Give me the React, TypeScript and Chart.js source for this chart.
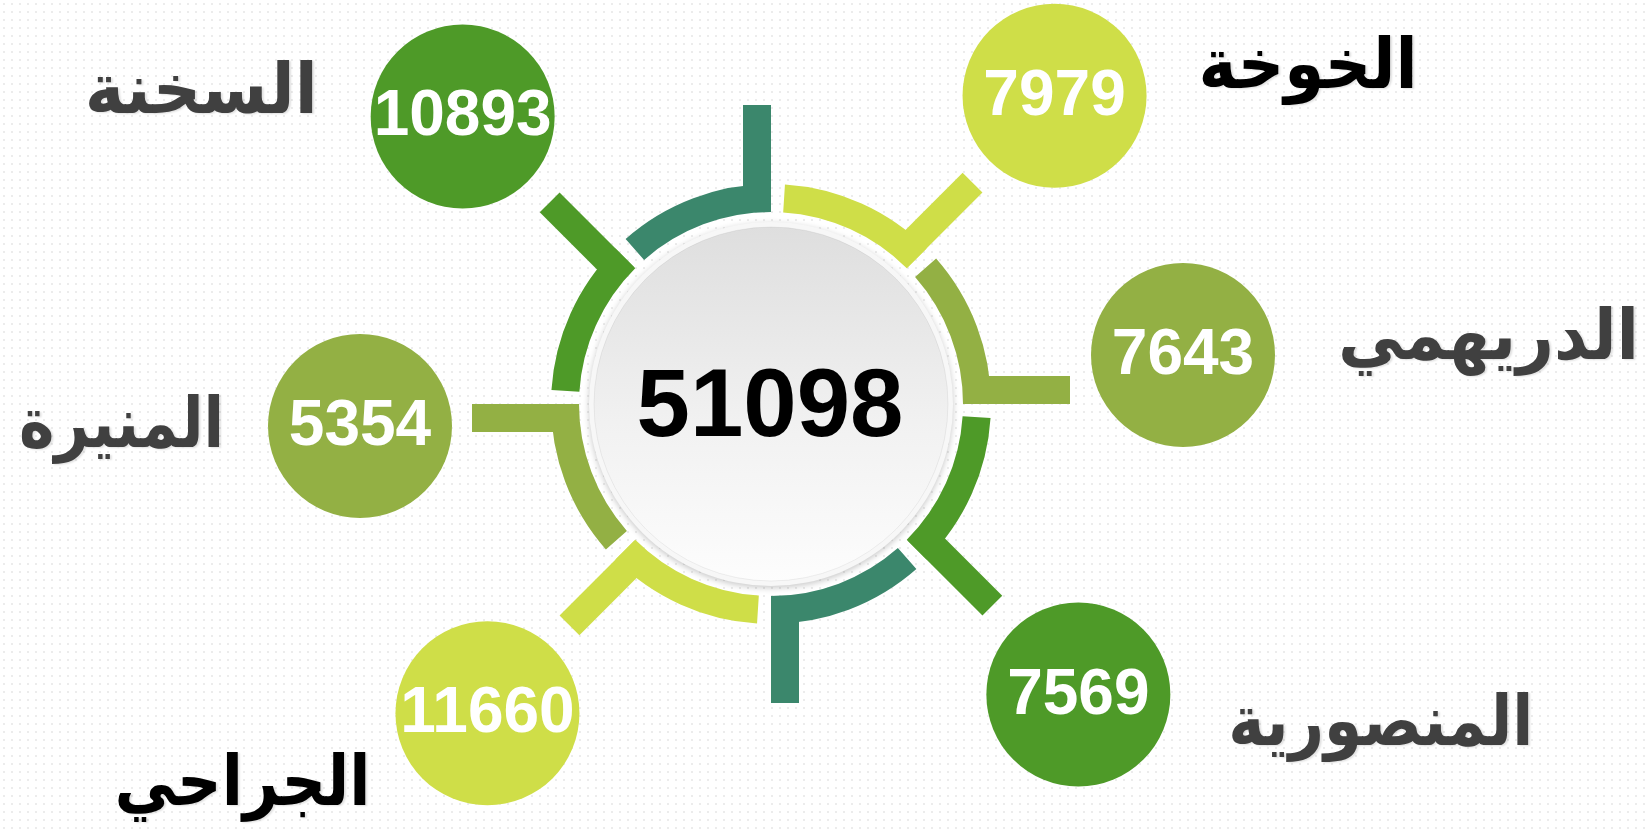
import React, { useEffect, useRef } from 'react';
import { Chart, registerables } from 'chart.js';

Chart.register(...registerables);

// ---- data (clockwise from the top of the ring) ----
const districts = ['الخوخة', 'الدريهمي', 'المنصورية', '', 'الجراحي', 'المنيرة', 'السخنة', ''];
const values: (number | null)[] = [7979, 7643, 7569, null, 11660, 5354, 10893, null];
const ringSectors = [1, 1, 1, 1, 1, 1, 1, 1]; // eight equal 45° sectors, as drawn
const total = values.reduce((s: number, v) => s + (v ?? 0), 0);

// ---- styles ----
const sectorColors = ['#CFDE48', '#93B044', '#4E9A28', '#3B876C', '#CFDE48', '#93B044', '#4E9A28', '#3B876C'];
const labelColors = ['#000000', '#404040', '#404040', '', '#000000', '#404040', '#404040', ''];

// ---- layout ----
const SPACING = 32;
const HALF = SPACING / 2;
const OUTER_R = 220;
const INNER_R = 192;
const ROT_RAD = (Math.PI / 4) * HALF / (2 * 206 - HALF);
const ROT_DEG = (ROT_RAD * 180) / Math.PI;
const BAR_W = 28;
const BAR_END = 299;
const BUBBLE_DIST = 415;
const BUBBLE_R = 92;
const BUBBLE_NUDGE: ([number, number] | null)[] = [[0, -5], [-3, -35], [4, 7], null, [0, 6], [4, 8], [-5, -4], null];
const LABEL_LAYOUT: ({ align: CanvasTextAlign; dx: number; dy: number; w: number } | null)[] = [
  { align: 'left', dx: 144, dy: -8, w: 219 },
  { align: 'left', dx: 155, dy: 4, w: 301 },
  { align: 'left', dx: 150, dy: 50, w: 305 },
  null,
  { align: 'right', dx: -117, dy: 92, w: 256 },
  { align: 'right', dx: -136, dy: 21, w: 205 },
  { align: 'right', dx: -145, dy: -3, w: 233 },
  null,
];

const infographicPlugin = {
  id: 'infographic',
  afterDatasetsDraw(chart: any) {
    const ctx: CanvasRenderingContext2D = chart.ctx;
    const meta = chart.getDatasetMeta(0);
    let cx = 0;
    let cy = 0;
    const bubbles: { x: number; y: number; i: number }[] = [];

    meta.data.forEach((arc: any, i: number) => {
      const p = arc.getProps(['x', 'y', 'endAngle', 'innerRadius'], true);
      cx = p.x;
      cy = p.y;
      const a = p.endAngle - ROT_RAD; // visible end of the sector
      const ux = Math.cos(a);
      const uy = Math.sin(a);
      const nx = Math.sin(a); // counter-clockwise side
      const ny = -Math.cos(a);
      const r0 = INNER_R + 1;
      ctx.save();
      ctx.fillStyle = sectorColors[i];
      ctx.beginPath();
      ctx.moveTo(cx + ux * r0, cy + uy * r0);
      ctx.lineTo(cx + ux * BAR_END, cy + uy * BAR_END);
      ctx.lineTo(cx + ux * BAR_END + nx * BAR_W, cy + uy * BAR_END + ny * BAR_W);
      ctx.lineTo(cx + ux * r0 + nx * BAR_W, cy + uy * r0 + ny * BAR_W);
      ctx.closePath();
      ctx.fill();
      ctx.restore();

      if (values[i] != null) {
        const nd = BUBBLE_NUDGE[i] || [0, 0];
        bubbles.push({
          x: cx + ux * BUBBLE_DIST + nx * (BAR_W / 2) + nd[0],
          y: cy + uy * BUBBLE_DIST + ny * (BAR_W / 2) + nd[1],
          i,
        });
      }
    });

    // centre disc
    ctx.save();
    ctx.shadowColor = 'rgba(0,0,0,0.22)';
    ctx.shadowBlur = 6;
    ctx.shadowOffsetY = 2;
    ctx.fillStyle = '#f7f7f7';
    ctx.beginPath();
    ctx.arc(cx, cy, 182, 0, Math.PI * 2);
    ctx.fill();
    ctx.restore();
    ctx.save();
    const g = ctx.createLinearGradient(cx, cy - 178, cx, cy + 178);
    g.addColorStop(0, '#dedede');
    g.addColorStop(0.55, '#f1f1f1');
    g.addColorStop(1, '#fdfdfd');
    ctx.fillStyle = g;
    ctx.beginPath();
    ctx.arc(cx, cy, 177, 0, Math.PI * 2);
    ctx.fill();
    ctx.strokeStyle = 'rgba(0,0,0,0.06)';
    ctx.lineWidth = 1;
    ctx.stroke();
    ctx.restore();

    // centre total
    ctx.save();
    ctx.fillStyle = '#000';
    ctx.font = 'bold 96px "Liberation Sans", Arial, sans-serif';
    ctx.textAlign = 'center';
    ctx.textBaseline = 'alphabetic';
    ctx.fillText(String(total), cx - 1, cy + 32);
    ctx.restore();

    // bubbles, values and names
    bubbles.forEach(({ x, y, i }) => {
      ctx.save();
      ctx.fillStyle = sectorColors[i];
      ctx.beginPath();
      ctx.arc(x, y, BUBBLE_R, 0, Math.PI * 2);
      ctx.fill();
      ctx.fillStyle = '#ffffff';
      ctx.font = 'bold 64px "Liberation Sans", Arial, sans-serif';
      ctx.textAlign = 'center';
      ctx.textBaseline = 'alphabetic';
      ctx.fillText(String(values[i]), x, y + 19);
      ctx.restore();

      const lay = LABEL_LAYOUT[i];
      if (lay) {
        ctx.save();
        ctx.direction = 'rtl';
        ctx.font = 'bold 70px "DejaVu Sans", sans-serif';
        ctx.textAlign = lay.align;
        ctx.textBaseline = 'alphabetic';
        ctx.shadowColor = 'rgba(0,0,0,0.12)';
        ctx.shadowOffsetX = 2;
        ctx.shadowOffsetY = 1;
        ctx.shadowBlur = 2;
        ctx.fillStyle = labelColors[i];
        ctx.fillText(districts[i], x + lay.dx, y + lay.dy, lay.w);
        ctx.restore();
      }
    });
  },
};

export default function App() {
  const ref = useRef<HTMLCanvasElement>(null);
  useEffect(() => {
    const canvas = ref.current;
    if (!canvas) return;
    const chart = new Chart(canvas, {
      type: 'doughnut',
      data: {
        labels: districts,
        datasets: [
          {
            data: ringSectors,
            backgroundColor: sectorColors,
            borderWidth: 0,
            spacing: SPACING,
            hoverOffset: 0,
          } as any,
        ],
      },
      options: {
        responsive: false,
        maintainAspectRatio: false,
        devicePixelRatio: 1,
        animation: false,
        events: [],
        rotation: ROT_DEG,
        radius: OUTER_R - HALF,
        cutout: `${((INNER_R - HALF) / (OUTER_R - HALF)) * 100}%`,
        layout: { padding: { left: 0, top: 0, right: 107, bottom: 22 } },
        plugins: { legend: { display: false }, tooltip: { enabled: false } },
      } as any,
      plugins: [infographicPlugin],
    });
    return () => chart.destroy();
  }, []);

  return (
    <div
      style={{
        position: 'fixed',
        left: 0,
        top: 0,
        width: 1649,
        height: 830,
        backgroundColor: '#ffffff',
        backgroundImage: 'radial-gradient(circle, #ececec 1px, transparent 1.4px)',
        backgroundSize: '8px 8px',
        overflow: 'hidden',
      }}
    >
      <canvas ref={ref} width={1649} height={830} style={{ display: 'block', width: 1649, height: 830 }} />
    </div>
  );
}
